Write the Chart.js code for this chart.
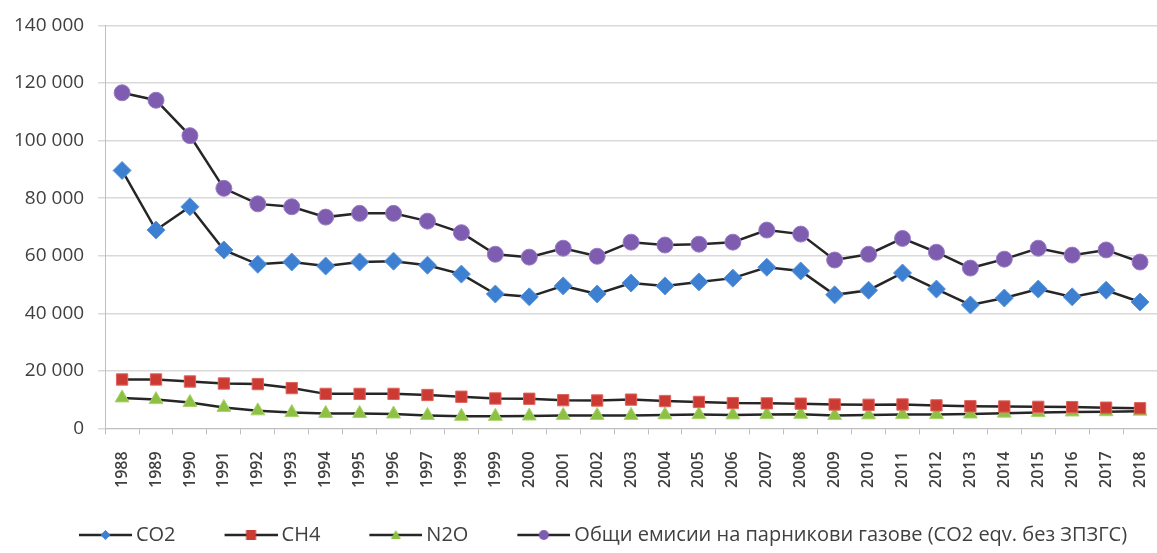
<!DOCTYPE html>
<html>
<head>
<meta charset="utf-8">
<script src="https://cdn.jsdelivr.net/npm/chart.js@4.4.0/dist/chart.umd.min.js"></script>
<style>
  html, body { margin: 0; background: #fff; }
  #wrap { width: 1157px; height: 553px; }
</style>
</head>
<body>
<div id="wrap"><canvas id="emissions"></canvas></div>
<script>
const years = ['1988', '1989', '1990', '1991', '1992', '1993', '1994', '1995', '1996', '1997',
  '1998', '1999', '2000', '2001', '2002', '2003', '2004', '2005', '2006', '2007', '2008',
  '2009', '2010', '2011', '2012', '2013', '2014', '2015', '2016', '2017', '2018'];

// kt CO2 eqv.
const co2 = [89600, 68900, 77000, 62000, 57000, 57800, 56400, 57800, 58100, 56700,
  53600, 46700, 45700, 49500, 46700, 50500, 49500, 50900, 52200, 56000, 54700,
  46400, 48000, 54000, 48400, 42900, 45300, 48400, 45700, 48000, 43900];
const ch4 = [17000, 17000, 16300, 15600, 15400, 14000, 12000, 12000, 12000, 11600,
  11000, 10400, 10300, 9800, 9700, 10000, 9500, 9200, 8800, 8700, 8600,
  8300, 8200, 8300, 8000, 7700, 7600, 7500, 7400, 7200, 7000];
const n2o = [10600, 10000, 9000, 7300, 6100, 5500, 5200, 5200, 5000, 4500,
  4200, 4200, 4300, 4500, 4500, 4500, 4700, 4800, 4700, 4800, 4900,
  4500, 4700, 4800, 4800, 5000, 5300, 5500, 5700, 5800, 6000];
const total = [116600, 114000, 101700, 83400, 78000, 77000, 73400, 74700, 74700, 72000,
  68000, 60500, 59500, 62600, 59800, 64700, 63700, 64000, 64700, 68900, 67500,
  58500, 60500, 66000, 61200, 55700, 58800, 62600, 60200, 62000, 57800];

const seriesNames = ['CO2', 'CH4', 'N2O', 'Общи емисии на парникови газове (CO2 eqv. без ЗПЗГС)'];
const yTicks = [0, 20000, 40000, 60000, 80000, 100000, 120000, 140000];

const lineColor = '#262626';
const styles = [
  { fill: '#3d7fd1', edge: '#5b95dc', shape: 'rectRot', r: 9 },
  { fill: '#cc3b33', edge: '#e0645c', shape: 'rect', r: 8 },
  { fill: '#8dc043', edge: '#a8d36a', shape: 'triangle', r: 8 },
  { fill: '#7e5cb0', edge: '#9a7cc7', shape: 'circle', r: 8 }
];

// legend swatch: the box is 96 wide; the line sits in its right part and
// runs a few px past it, so the text ends up close to the line like in Excel
const SWATCH_BOX = 96;
function legendSwatch(st) {
  const c = document.createElement('canvas');
  c.width = SWATCH_BOX + 12; c.height = 14;
  const g = c.getContext('2d');
  const x0 = 55, x1 = c.width, mid = (x0 + x1) / 2;
  g.strokeStyle = lineColor; g.lineWidth = 2.5;
  g.beginPath(); g.moveTo(x0, 7); g.lineTo(x1, 7); g.stroke();
  g.fillStyle = st.fill;
  g.beginPath();
  if (st.shape === 'rectRot') { g.moveTo(mid, 2); g.lineTo(mid + 5, 7); g.lineTo(mid, 12); g.lineTo(mid - 5, 7); }
  else if (st.shape === 'rect') { g.rect(mid - 5, 2, 10, 10); }
  else if (st.shape === 'triangle') { g.moveTo(mid, 2); g.lineTo(mid + 5, 11); g.lineTo(mid - 5, 11); }
  else { g.arc(mid, 7, 5, 0, Math.PI * 2); }
  g.fill();
  return c;
}

const values = [co2, ch4, n2o, total];
const datasets = values.map((v, i) => ({
  label: seriesNames[i],
  data: v,
  borderColor: lineColor,
  borderWidth: 2.5,
  pointStyle: styles[i].shape,
  pointRadius: styles[i].r,
  pointBackgroundColor: styles[i].fill,
  pointBorderColor: styles[i].edge,
  pointBorderWidth: 1,
  tension: 0,
  fill: false
}));

const fmt = v => String(v).replace(/\B(?=(\d{3})+(?!\d))/g, ' ');

new Chart(document.getElementById('emissions'), {
  type: 'line',
  data: { labels: years, datasets: datasets },
  options: {
    responsive: true,
    maintainAspectRatio: false,
    animation: false,
    layout: { autoPadding: false, padding: { top: 13, right: 0, left: 0, bottom: -2 } },
    plugins: {
      tooltip: { enabled: false },
      legend: {
        position: 'bottom',
        labels: {
          usePointStyle: true,
          pointStyleWidth: SWATCH_BOX,
          padding: 0,
          color: '#404040',
          font: { family: 'Open Sans', size: 20 },
          generateLabels: chart => chart.data.datasets.map((ds, i) => ({
            text: ds.label,
            pointStyle: legendSwatch(styles[i]),
            fillStyle: styles[i].fill,
            strokeStyle: lineColor,
            lineWidth: 0,
            fontColor: '#404040',
            hidden: false,
            datasetIndex: i
          }))
        }
      }
    },
    scales: {
      x: {
        offset: true,
        afterFit: axis => { axis.paddingRight = 0; axis.height += 20; },
        grid: { drawOnChartArea: false, offset: true, color: '#bfbfbf', tickLength: 6 },
        border: { color: '#bfbfbf' },
        ticks: {
          minRotation: 90, maxRotation: 90, autoSkip: false,
          color: '#404040',
          padding: 17,
          font: { family: 'Open Sans', size: 16, weight: '600' }
        }
      },
      y: {
        min: 0, max: 140000,
        afterBuildTicks: axis => { axis.ticks = yTicks.map(v => ({ value: v })); },
        grid: { color: '#d9d9d9', lineWidth: 1.5, tickLength: 7 },
        border: { color: '#bfbfbf' },
        ticks: {
          color: '#404040',
          padding: 14,
          font: { family: 'Open Sans', size: 19 },
          callback: v => fmt(v)
        }
      }
    }
  }
});
</script>
</body>
</html>
